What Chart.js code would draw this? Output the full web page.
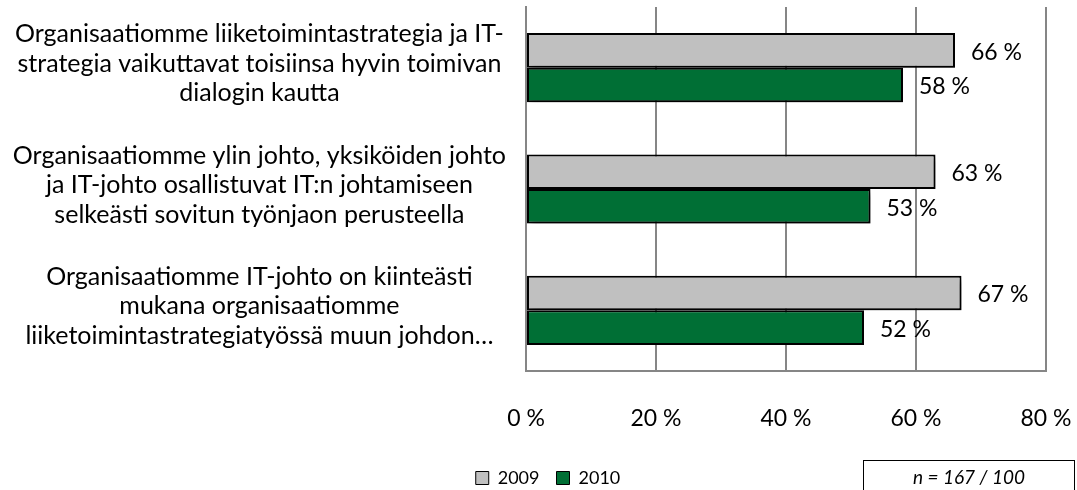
<!DOCTYPE html>
<html>
<head>
<meta charset="utf-8">
<script src="https://cdn.jsdelivr.net/npm/chart.js@4/dist/chart.umd.min.js"></script>
<style>
  html, body { margin: 0; padding: 0; background: #fff; }
  #wrap { position: relative; width: 1077px; height: 490px; overflow: hidden; }
  #nbox {
    position: absolute; left: 863px; top: 460px; width: 212px; height: 40px;
    border: 1px solid #000; box-sizing: border-box;
    font: italic 19px Lato, "Noto Sans", sans-serif; text-align: center;
    line-height: 32px; color: #000;
  }
</style>
</head>
<body>
<div id="wrap">
  <canvas id="c" width="1077" height="490"></canvas>
  <div id="nbox">n = 167 / 100</div>
</div>
<script>
// kysymykset (multiline labels)
var kategoriat = [
  ["Organisaatiomme liiketoimintastrategia ja IT-", "strategia vaikuttavat toisiinsa hyvin toimivan", "dialogin kautta"],
  ["Organisaatiomme ylin johto, yksiköiden johto", "ja IT-johto osallistuvat IT:n johtamiseen", "selkeästi sovitun työnjaon perusteella"],
  ["Organisaatiomme IT-johto on kiinteästi", "mukana organisaatiomme", "liiketoimintastrategiatyössä muun johdon…"]
];
var vuodet = ["2009", "2010"];
var arvot2009 = [66, 63, 67];
var arvot2010 = [58, 53, 52];
var xTicks = [0, 20, 40, 60, 80];

var FONT = "Lato, 'Noto Sans', sans-serif";
var gridCol = "#868686";

// varjo palkeille
var shadowPlugin = {
  id: "barShadow",
  beforeDatasetsDraw: function(chart) {
    var ctx = chart.ctx;
    ctx.save();
    ctx.shadowColor = "rgba(0,0,0,0.45)";
    ctx.shadowBlur = 6;
    ctx.shadowOffsetX = 3;
    ctx.shadowOffsetY = 4;
  },
  afterDatasetsDraw: function(chart) {
    chart.ctx.restore();
  }
};

// arvot palkkien perään
var labelPlugin = {
  id: "valueLabels",
  afterDatasetsDraw: function(chart) {
    var ctx = chart.ctx;
    ctx.save();
    ctx.font = "23px " + FONT;
    ctx.fillStyle = "#000";
    ctx.textBaseline = "middle";
    ctx.textAlign = "left";
    chart.data.datasets.forEach(function(ds, i) {
      chart.getDatasetMeta(i).data.forEach(function(bar, j) {
        ctx.fillText(ds.data[j] + " %", bar.x + 16, bar.y + 2);
      });
    });
    ctx.restore();
  }
};

// selite hieman oikealle
var legendShift = {
  id: "legendShift",
  afterLayout: function(chart) {
    chart.legend.left += 25;
    chart.legend.right += 25;
  }
};

var ctx = document.getElementById("c").getContext("2d");
var chart = new Chart(ctx, {
  type: "bar",
  data: {
    labels: kategoriat,
    datasets: [
      { label: vuodet[0], data: arvot2009, backgroundColor: "#c0c0c0", borderColor: "#000", borderWidth: 2 },
      { label: vuodet[1], data: arvot2010, backgroundColor: "#006f35", borderColor: "#000", borderWidth: 2 }
    ]
  },
  options: {
    indexAxis: "y",
    responsive: false,
    animation: false,
    layout: { padding: { left: 0, right: 31, top: 7, bottom: -7 } },
    datasets: { bar: { barPercentage: 1.0, categoryPercentage: 0.57, borderSkipped: false } },
    scales: {
      x: {
        min: 0, max: 80,
        afterBuildTicks: function(scale) {
          scale.ticks = xTicks.map(function(v) { return { value: v }; });
        },
        afterFit: function(scale) {
          scale.height = 81;
          scale.paddingLeft = 0;
          scale.paddingRight = 0;
        },
        grid: { color: gridCol, lineWidth: 2, drawTicks: false },
        border: { display: true, color: gridCol, width: 2 },
        ticks: {
          padding: 34,
          color: "#000",
          font: { family: FONT, size: 23 },
          callback: function(v) { return v + " %"; }
        }
      },
      y: {
        afterFit: function(scale) {
          scale.width = 526;
          scale.paddingTop = 0;
          scale.paddingBottom = 0;
        },
        grid: { display: false, drawTicks: false },
        border: { display: true, color: gridCol, width: 2 },
        ticks: {
          crossAlign: "center",
          padding: 20,
          labelOffset: -4,
          color: "#000",
          font: { family: FONT, size: 25, lineHeight: 1.18 }
        }
      }
    },
    plugins: {
      legend: {
        position: "bottom",
        labels: {
          boxWidth: 13, boxHeight: 13, padding: 17,
          color: "#000",
          font: { family: FONT, size: 18 },
          generateLabels: function(chart) {
            var items = Chart.defaults.plugins.legend.labels.generateLabels(chart);
            items.forEach(function(it) { it.lineWidth = 1; });
            return items;
          }
        }
      },
      tooltip: { enabled: false }
    }
  },
  plugins: [shadowPlugin, labelPlugin, legendShift]
});
</script>
</body>
</html>
